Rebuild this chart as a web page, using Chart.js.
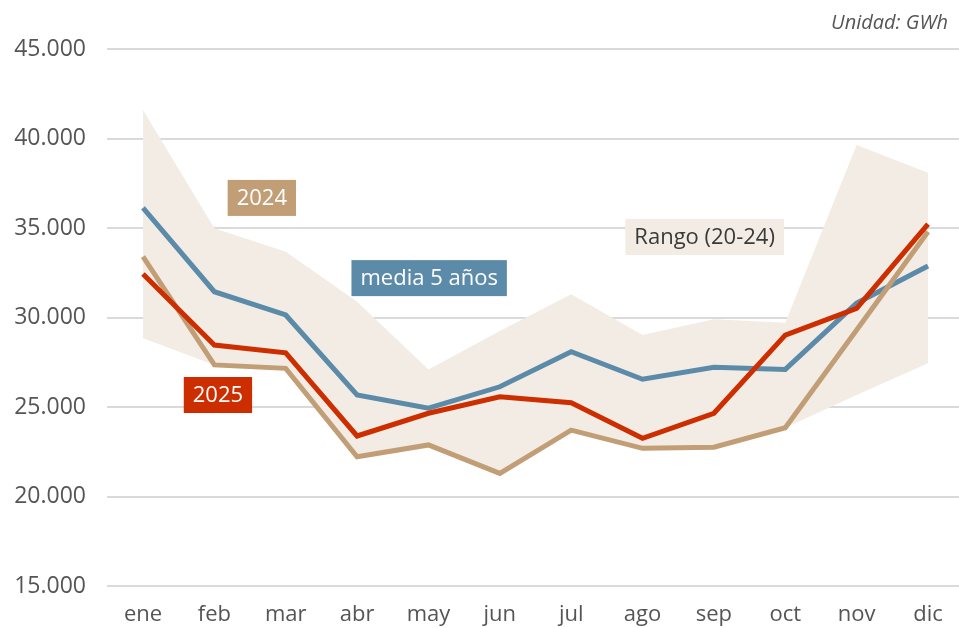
<!DOCTYPE html>
<html>
<head>
<meta charset="utf-8">
<script src="https://cdn.jsdelivr.net/npm/chart.js@4"></script>
<style>
  html, body { margin: 0; padding: 0; background: #fff; }
  #wrap { width: 959px; height: 628px; position: relative; }
</style>
</head>
<body>
<div id="wrap"><canvas id="myChart" width="959" height="628"></canvas></div>
<script>
var meses = ["ene", "feb", "mar", "abr", "may", "jun", "jul", "ago", "sep", "oct", "nov", "dic"];

var serie2025 = [32430, 28460, 28030, 23380, 24650, 25570, 25240, 23250, 24650, 29020, 30510, 35210];
var serie2024 = [33400, 27350, 27160, 22220, 22880, 21290, 23710, 22690, 22750, 23840, 29300, 34790];
var media5 = [36120, 31440, 30140, 25670, 24930, 26130, 28090, 26550, 27220, 27100, 30800, 32880];
var rangoMax = [41590, 34980, 33680, 30880, 27100, 29250, 31300, 29020, 29900, 29710, 39640, 38090];
var rangoMin = [28840, 27350, 27160, 22220, 22880, 21290, 23710, 22690, 22750, 23840, 25670, 27440];

var yTicks = [15000, 20000, 25000, 30000, 35000, 40000, 45000];

var rojo = "#cc2e00";
var tostado = "#c29e77";
var azul = "#5b8ba8";
var fondoRango = "#f2ece4";
var fuente = "'Open Sans', 'DejaVu Sans', sans-serif";

// etiquetas en coordenadas de datos (índice de mes, valor)
var etiquetas = [
  { text: "2024", x: 1.665, y: 36680, bg: tostado, color: "#fff" },
  { text: "media 5 años", x: 4.01, y: 32200, bg: azul, color: "#fff" },
  { text: "2025", x: 1.05, y: 25670, bg: rojo, color: "#fff" },
  { text: "Rango (20-24)", x: 7.87, y: 34500, bg: fondoRango, color: "#3a3a3a" }
];

function miles(v) {
  return String(v).replace(/\B(?=(\d{3})+(?!\d))/g, ".");
}

var gridPlugin = {
  id: "gridPlugin",
  beforeDatasetsDraw: function (chart) {
    var ctx = chart.ctx, y = chart.scales.y;
    ctx.save();
    ctx.strokeStyle = "#dadada";
    ctx.lineWidth = 2;
    yTicks.forEach(function (t) {
      var py = Math.round(y.getPixelForValue(t));
      ctx.beginPath();
      ctx.moveTo(107, py);
      ctx.lineTo(chart.width, py);
      ctx.stroke();
    });
    ctx.restore();
  }
};

var labelPlugin = {
  id: "labelPlugin",
  afterDatasetsDraw: function (chart) {
    var ctx = chart.ctx, xs = chart.scales.x, ys = chart.scales.y;
    ctx.save();
    ctx.font = "500 22px " + fuente;
    ctx.textAlign = "center";
    ctx.textBaseline = "middle";
    etiquetas.forEach(function (e) {
      var cx = xs.getPixelForValue(e.x);
      var cy = ys.getPixelForValue(e.y);
      var w = ctx.measureText(e.text).width + 18;
      var h = 36;
      ctx.fillStyle = e.bg;
      ctx.fillRect(cx - w / 2, cy - h / 2, w, h);
      ctx.fillStyle = e.color;
      ctx.fillText(e.text, cx, cy + 1);
    });
    // unidad
    ctx.font = "italic 20px " + fuente;
    ctx.textAlign = "right";
    ctx.fillStyle = "#555";
    ctx.fillText("Unidad: GWh", 948, 23);
    ctx.restore();
  }
};

new Chart("myChart", {
  type: "line",
  data: {
    labels: meses,
    datasets: [
      { label: "2025", data: serie2025, borderColor: rojo, borderWidth: 5, pointRadius: 0, fill: false },
      { label: "2024", data: serie2024, borderColor: tostado, borderWidth: 5, pointRadius: 0, fill: false },
      { label: "media 5 años", data: media5, borderColor: azul, borderWidth: 5, pointRadius: 0, fill: false },
      { label: "Rango max", data: rangoMax, borderWidth: 0, borderColor: "rgba(0,0,0,0)", backgroundColor: fondoRango, pointRadius: 0, fill: "+1" },
      { label: "Rango min", data: rangoMin, borderWidth: 0, borderColor: "rgba(0,0,0,0)", pointRadius: 0, fill: false }
    ]
  },
  options: {
    responsive: false,
    animation: false,
    layout: { padding: { top: 49, right: 31, left: 0, bottom: 0 } },
    scales: {
      x: {
        offset: false,
        grid: { display: false, drawTicks: false },
        border: { display: false },
        ticks: { color: "#555", font: { family: fuente, size: 22 }, padding: 16, maxRotation: 0, autoSkip: false },
        afterFit: function (s) { s.height = 42; s.paddingLeft = 0; s.paddingRight = 0; }
      },
      y: {
        min: 15000,
        max: 45000,
        grid: { display: false, drawTicks: false },
        border: { display: false },
        afterBuildTicks: function (s) { s.ticks = yTicks.map(function (v) { return { value: v }; }); },
        ticks: {
          color: "#555",
          font: { family: fuente, size: 23 },
          padding: 57,
          callback: function (v) { return miles(v); }
        },
        afterFit: function (s) { s.width = 143; s.paddingTop = 0; s.paddingBottom = 0; }
      }
    },
    plugins: {
      legend: { display: false },
      tooltip: { enabled: false }
    }
  },
  plugins: [gridPlugin, labelPlugin]
});
</script>
</body>
</html>
